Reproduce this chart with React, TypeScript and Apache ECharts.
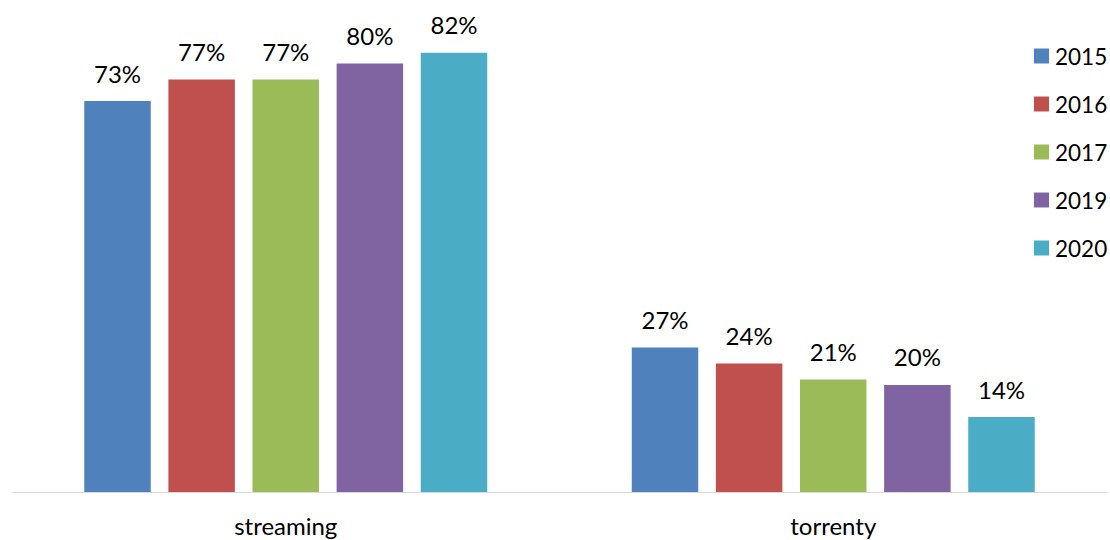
import React, { useEffect, useRef } from "react";
import * as echarts from "echarts";

const categories = ["streaming", "torrenty"];
const years = ["2015", "2016", "2017", "2019", "2020"];
const values2015 = [73, 27];
const values2016 = [77, 24];
const values2017 = [77, 21];
const values2019 = [80, 20];
const values2020 = [82, 14];
const colors = ["#4F81BD", "#C0504D", "#9BBB59", "#8064A2", "#4BACC6"];

const seriesValues = [values2015, values2016, values2017, values2019, values2020];
const FONT = "Lato, 'Open Sans', sans-serif";

export default function App() {
  const ref = useRef<HTMLDivElement>(null);
  useEffect(() => {
    if (!ref.current) return;
    const chart = echarts.init(ref.current, undefined, { renderer: "svg" });
    chart.setOption({
      animation: false,
      textStyle: { fontFamily: FONT },
      grid: { left: 12, right: 3, top: 10, bottom: 48, containLabel: false },
      legend: {
        orient: "vertical",
        left: 1034,
        top: 44,
        padding: 0,
        itemWidth: 15,
        itemHeight: 15,
        itemGap: 24,
        icon: "rect",
        textStyle: { fontSize: 22.5, color: "#000", fontFamily: FONT, lineHeight: 24, padding: [0, 0, 0, 1] },
        data: years,
      },
      xAxis: {
        type: "category",
        data: categories,
        axisLine: { show: true, lineStyle: { color: "#D9D9D9", width: 1 } },
        axisTick: { show: false },
        axisLabel: { fontSize: 24, color: "#000", fontFamily: FONT, margin: 21, lineHeight: 24 },
      },
      yAxis: {
        type: "value",
        min: 0,
        max: 90,
        show: false,
        splitLine: { show: false },
      },
      series: years.map((y, i) => ({
        name: y,
        type: "bar",
        data: seriesValues[i],
        barWidth: 66.5,
        barGap: "26.5%",
        itemStyle: { color: colors[i] },
        label: {
          show: true,
          position: "top",
          distance: 16,
          formatter: "{c}%",
          fontSize: 24,
          color: "#000",
          fontFamily: FONT,
        },
      })),
    });
    return () => chart.dispose();
  }, []);
  return <div ref={ref} style={{ width: 1110, height: 540, position: "absolute", left: 0, top: 0 }} />;
}
